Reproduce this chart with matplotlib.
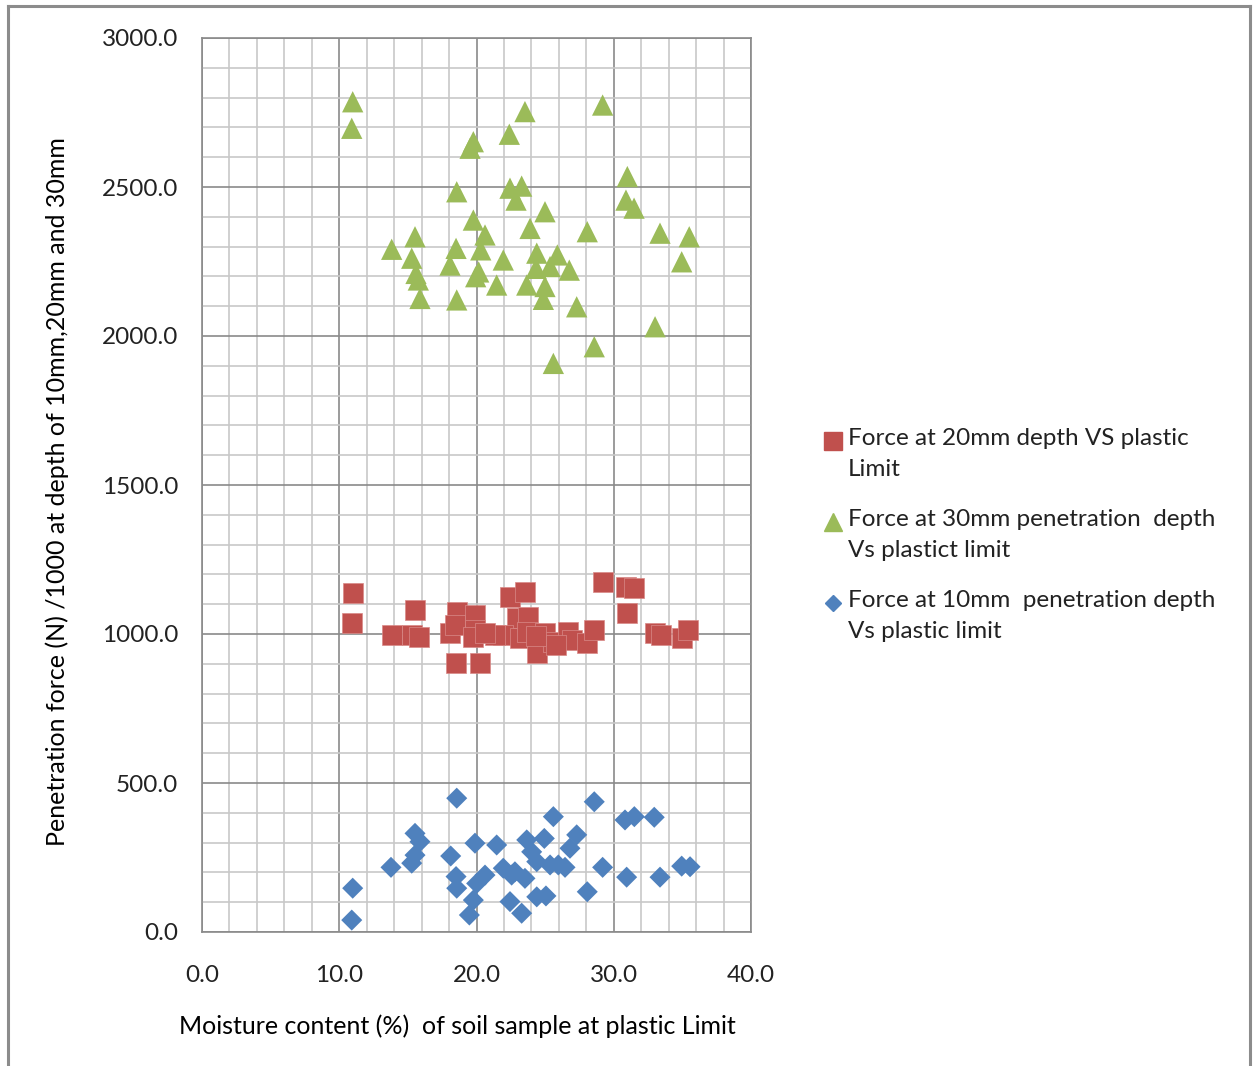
import matplotlib
matplotlib.use('Agg')
import matplotlib.pyplot as plt
from matplotlib.lines import Line2D

plt.rcParams['font.family'] = ['Lato', 'DejaVu Sans']

# moisture content (%) and force values
x_30 = [10.98, 10.91, 19.77, 19.53, 22.39, 23.53, 29.19, 18.56, 22.44, 23.29,
        22.88, 19.77, 20.62, 23.90, 15.52, 13.82, 15.28, 18.51, 20.31, 18.07,
        21.95, 15.59, 15.76, 19.94, 21.47, 15.88, 18.56, 24.99, 28.07, 30.99,
        30.89, 31.48, 33.37, 35.50, 34.95, 24.39, 25.89, 24.34, 25.36, 26.76,
        23.66, 24.99, 24.87, 27.30, 33.01, 28.58, 25.60, 20.16]
y_30 = [2786, 2697, 2652, 2630, 2677, 2753, 2775, 2484, 2496, 2503,
        2456, 2389, 2339, 2361, 2333, 2291, 2261, 2294, 2289, 2238,
        2255, 2210, 2188, 2199, 2171, 2126, 2121, 2417, 2350, 2535,
        2456, 2429, 2345, 2333, 2249, 2278, 2272, 2227, 2233, 2221,
        2171, 2166, 2123, 2098, 2031, 1964, 1908, 2215]

x_20 = [10.98, 10.91, 13.82, 15.52, 15.28, 15.83, 18.56, 19.89, 18.07, 18.43,
        19.89, 19.77, 18.51, 20.25, 22.44, 23.53, 22.93, 21.95, 21.35, 23.17,
        29.19, 30.89, 31.48, 30.94, 23.77, 20.62, 23.66, 24.39, 24.99, 25.60,
        26.69, 26.96, 28.07, 28.58, 33.01, 33.42, 34.95, 35.43, 24.34, 25.79]
y_20 = [1137, 1036, 997, 1081, 997, 989, 1075, 1064, 1002, 1030,
        1013, 991, 902, 902, 1125, 1142, 1053, 997, 997, 986,
        1176, 1159, 1153, 1069, 1058, 1003, 1008, 935, 1002, 974,
        1008, 980, 969, 1013, 1002, 997, 986, 1013, 993, 963]

x_10 = [18.56, 10.98, 10.91, 13.77, 15.52, 15.88, 15.52, 15.28, 18.12, 19.89,
        21.47, 18.51, 18.56, 20.62, 20.01, 19.77, 19.48, 21.95, 22.56, 22.44,
        23.29, 28.58, 25.60, 30.82, 31.50, 32.95, 23.66, 24.94, 27.30, 26.81,
        24.02, 24.39, 25.36, 25.96, 26.45, 22.80, 23.53, 29.19, 30.94, 33.37,
        34.95, 35.56, 28.07, 24.39, 25.06]
y_10 = [449, 147, 40, 217, 331, 303, 258, 231, 255, 298,
        292, 186, 147, 191, 163, 107, 57, 214, 191, 102,
        63, 437, 387, 376, 387, 385, 309, 314, 326, 281,
        269, 236, 225, 225, 217, 202, 180, 217, 184, 184,
        221, 219, 135, 118, 121]

labels = ['Force at 20mm depth VS plastic\nLimit',
          'Force at 30mm penetration  depth\nVs plastict limit',
          'Force at 10mm  penetration depth\nVs plastic limit']

red = '#C0504D'
green = '#9BBB59'
blue = '#4F81BD'

fig = plt.figure(figsize=(12.54, 10.66), dpi=100)
ax = fig.add_axes([202/1254, 1 - 932/1066, 549/1254, 894/1066])

ax.scatter(x_10, y_10, marker='D', s=115, color=blue, edgecolors='none', zorder=3)
ax.scatter(x_20, y_20, marker='s', s=220, color=red, edgecolors='#d98a88', linewidths=0.5, zorder=3)
ax.scatter(x_30, y_30, marker='^', s=235, color=green, edgecolors='none', zorder=3)

ax.set_xlim(0, 40)
ax.set_ylim(0, 3000)
ax.set_xticks(range(0, 41, 10))
ax.set_xticks(range(0, 41, 2), minor=True)
ax.set_yticks(range(0, 3001, 500))
ax.set_yticks(range(0, 3001, 100), minor=True)
ax.set_xticklabels(['%.1f' % v for v in range(0, 41, 10)])
ax.set_yticklabels(['%.1f' % v for v in range(0, 3001, 500)])
ax.grid(which='minor', color='#c8c8c8', linewidth=1.2)
ax.grid(which='major', color='#8a8a8a', linewidth=1.2)
ax.set_axisbelow(True)
ax.tick_params(which='both', length=0, labelsize=17.5, colors='#222222')
ax.tick_params(axis='x', pad=24)
ax.tick_params(axis='y', pad=17)
for s in ax.spines.values():
    s.set_color('#8a8a8a')
    s.set_linewidth(1.2)

ax.set_xlabel('Moisture content (%)  of soil sample at plastic Limit', fontsize=18)
ax.set_ylabel('Penetration force (N) /1000 at depth of 10mm,20mm and 30mm', fontsize=18)
ax.xaxis.set_label_coords(0.466, -0.092)
ax.yaxis.set_label_coords(-0.243, 0.493)

# legend drawn by hand so the marker sits on the first text line
leg_y = [441, 522, 603]
leg_m = ['s', '^', 'D']
leg_c = [red, green, blue]
leg_ms = [15, 15, 10]
for yy, lab, m, c, ms in zip(leg_y, labels, leg_m, leg_c, leg_ms):
    fig.add_artist(Line2D([833/1254], [1 - yy/1066], marker=m, color=c,
                          markersize=ms * 0.85, linestyle='none', transform=fig.transFigure))
    fig.text(848/1254, 1 - (yy - 13)/1066, lab, fontsize=17.5, va='top', ha='left',
             linespacing=1.6, color='#222222')

# outer chart frame
for xs, ys in [([8, 8], [1066, 6]), ([8, 1250], [6, 6]), ([1250, 1250], [6, 1066])]:
    fig.add_artist(Line2D([v/1254 for v in xs], [1 - v/1066 for v in ys],
                          color='#8c8c8c', linewidth=2.2, transform=fig.transFigure))

fig.savefig('out.png', dpi=100)
